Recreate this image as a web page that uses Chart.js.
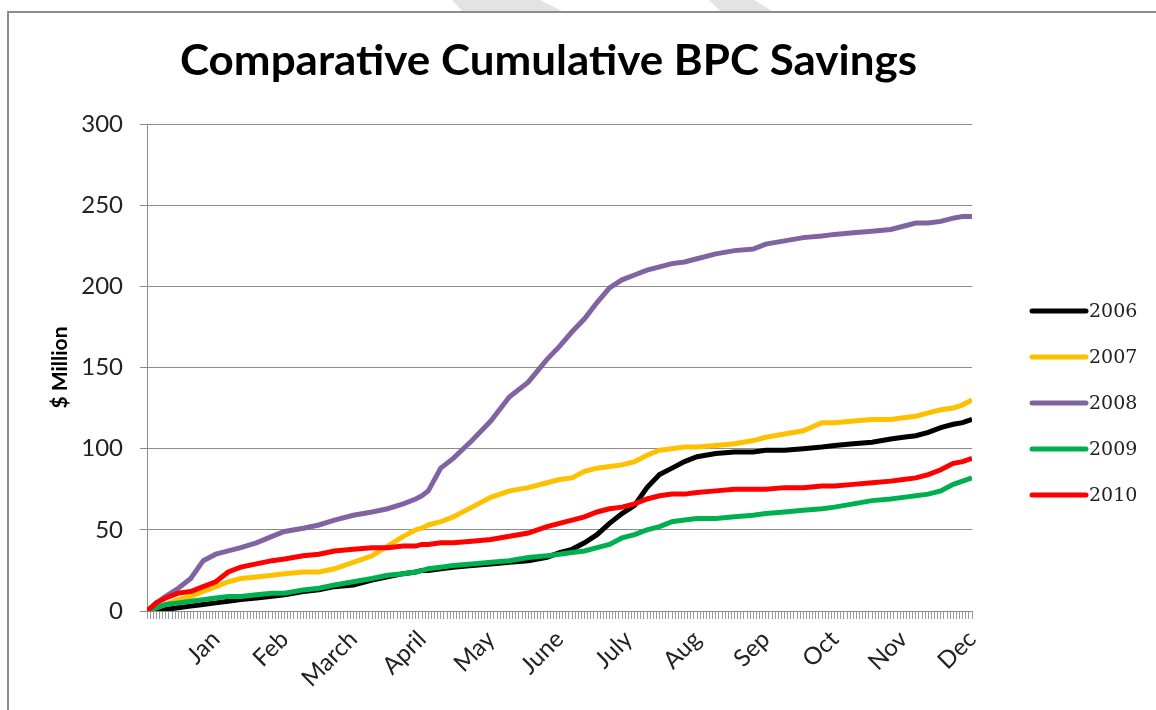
<!DOCTYPE html>
<html>
<head>
<meta charset="utf-8">
<script src="https://cdn.jsdelivr.net/npm/chart.js@4.4.1/dist/chart.umd.min.js"></script>
<style>
  html, body { margin: 0; padding: 0; background: #fff; overflow: hidden; }
  #wrap { position: relative; width: 1156px; height: 710px; }
  #frame { position: absolute; left: 7px; top: 11px; width: 1200px; height: 800px;
           border-top: 2px solid #8c8c8c; border-left: 2px solid #8c8c8c; }
  #chart { position: absolute; left: 0; top: 0; }
</style>
</head>
<body>
<div id="wrap">
  <div id="frame"></div>
  <canvas id="chart" width="1156" height="710"></canvas>
</div>
<script>
// working-day index through the year (22 per month)
const days = [0, 3, 6, 10, 14, 18, 22, 26, 30, 35, 40, 44, 50, 55, 60, 66, 72, 77, 82, 86, 88, 90,
  94, 98, 104, 110, 116, 122, 128, 132, 136, 140, 144, 148, 152, 156, 160, 164, 168, 172, 176,
  182, 188, 194, 198, 204, 210, 216, 220, 226, 232, 238, 242, 246, 250, 254, 258, 261, 264];

const months = ['Jan', 'Feb', 'March', 'April', 'May', 'June', 'July', 'Aug', 'Sep', 'Oct', 'Nov', 'Dec'];
const daysPerMonth = 22;
const yTicks = [0, 50, 100, 150, 200, 250, 300];

const s2006 = [0, 0, 1, 2, 3, 4, 5, 6, 7, 8, 9, 10, 12, 13, 15, 16, 19, 21, 23, 24, 25, 25,
  26, 27, 28, 29, 30, 31, 33, 36, 38, 42, 47, 54, 60, 65, 76, 84, 88, 92, 95,
  97, 98, 98, 99, 99, 100, 101, 102, 103, 104, 106, 107, 108, 110, 113, 115, 116, 118];
const s2007 = [0, 2, 4, 7, 9, 12, 15, 18, 20, 21, 22, 23, 24, 24, 26, 30, 34, 40, 46, 50, 51, 53,
  55, 58, 64, 70, 74, 76, 79, 81, 82, 86, 88, 89, 90, 92, 96, 99, 100, 101, 101,
  102, 103, 105, 107, 109, 111, 116, 116, 117, 118, 118, 119, 120, 122, 124, 125, 127, 130];
const s2008 = [0, 5, 9, 14, 20, 31, 35, 37, 39, 42, 46, 49, 51, 53, 56, 59, 61, 63, 66, 69, 71, 74,
  88, 94, 105, 117, 132, 141, 155, 163, 172, 180, 190, 199, 204, 207, 210, 212, 214, 215, 217,
  220, 222, 223, 226, 228, 230, 231, 232, 233, 234, 235, 237, 239, 239, 240, 242, 243, 243];
const s2009 = [0, 2, 4, 5, 6, 7, 8, 9, 9, 10, 11, 11, 13, 14, 16, 18, 20, 22, 23, 24, 25, 26,
  27, 28, 29, 30, 31, 33, 34, 35, 36, 37, 39, 41, 45, 47, 50, 52, 55, 56, 57,
  57, 58, 59, 60, 61, 62, 63, 64, 66, 68, 69, 70, 71, 72, 74, 78, 80, 82];
const s2010 = [0, 5, 8, 11, 12, 15, 18, 24, 27, 29, 31, 32, 34, 35, 37, 38, 39, 39, 40, 40, 41, 41,
  42, 42, 43, 44, 46, 48, 52, 54, 56, 58, 61, 63, 64, 66, 69, 71, 72, 72, 73,
  74, 75, 75, 75, 76, 76, 77, 77, 78, 79, 80, 81, 82, 84, 87, 91, 92, 94];

const seriesNames = ['2006', '2007', '2008', '2009', '2010'];
const seriesValues = [s2006, s2007, s2008, s2009, s2010];
const seriesColors = ['#000000', '#ffc000', '#8064a2', '#00b050', '#ff0000'];

const datasets = seriesNames.map((name, i) => ({
  label: name,
  data: days.map((d, k) => ({ x: d, y: seriesValues[i][k] })),
  borderColor: seriesColors[i],
  backgroundColor: seriesColors[i],
  borderWidth: 5,
  pointRadius: 0,
  tension: 0,
  fill: false,
  order: seriesNames.length - 1 - i   // later years on top
}));

// title, legend and the faint watermark at the top edge
const decor = {
  id: 'decor',
  beforeDraw(chart) {
    const ctx = chart.ctx;
    ctx.save();
    ctx.fillStyle = '#e3e3e3';
    ctx.beginPath();
    ctx.moveTo(452, 0); ctx.lineTo(540, 0); ctx.lineTo(562, 11); ctx.lineTo(462, 11);
    ctx.closePath(); ctx.fill();
    ctx.beginPath();
    ctx.moveTo(709, 0); ctx.lineTo(754, 0); ctx.lineTo(772, 11); ctx.lineTo(720, 11);
    ctx.closePath(); ctx.fill();
    ctx.restore();
  },
  afterDraw(chart) {
    const ctx = chart.ctx;
    ctx.save();
    // title
    const title = 'Comparative Cumulative BPC Savings';
    ctx.font = 'bold 42px Lato';
    const w = ctx.measureText(title).width;
    ctx.translate(548.5, 75);
    ctx.scale(737 / w, 1);
    ctx.fillStyle = '#000';
    ctx.textAlign = 'center';
    ctx.textBaseline = 'alphabetic';
    ctx.fillText(title, 0, 0);
    ctx.restore();

    // legend
    ctx.save();
    chart.data.datasets.forEach((ds, i) => {
      const y = 311 + i * 46;
      ctx.strokeStyle = ds.borderColor;
      ctx.lineWidth = 5;
      ctx.lineCap = 'round';
      ctx.beginPath();
      ctx.moveTo(1032, y);
      ctx.lineTo(1086, y);
      ctx.stroke();
      ctx.fillStyle = '#222';
      ctx.font = '19px "DejaVu Serif"';
      ctx.textAlign = 'left';
      ctx.textBaseline = 'middle';
      ctx.fillText(ds.label, 1089, y + 1);
    });
    ctx.restore();
  }
};

new Chart(document.getElementById('chart'), {
  type: 'line',
  data: { datasets: datasets },
  plugins: [decor],
  options: {
    responsive: false,
    animation: false,
    layout: { padding: { top: 124, right: 184, left: 48, bottom: 0 } },
    plugins: { legend: { display: false }, tooltip: { enabled: false } },
    scales: {
      x: {
        type: 'linear',
        min: 0,
        max: daysPerMonth * months.length,
        afterFit: s => { s.height = 99; },
        border: { color: '#8c8c8c' },
        grid: { drawOnChartArea: false, tickLength: 8, color: '#9a9a9a' },
        ticks: {
          stepSize: 1,
          autoSkip: false,
          minRotation: 45,
          maxRotation: 45,
          padding: 6,
          color: '#222',
          font: { family: 'Lato', size: 24 },
          callback: v => (v > 0 && v % daysPerMonth === 0) ? months[v / daysPerMonth - 1] : ''
        }
      },
      y: {
        min: yTicks[0],
        max: yTicks[yTicks.length - 1],
        afterFit: s => { s.width = 99; },
        afterBuildTicks: s => { s.ticks = yTicks.map(v => ({ value: v })); },
        border: { color: '#8c8c8c' },
        grid: { color: '#8c8c8c', tickLength: 7 },
        ticks: { padding: 17, color: '#222', font: { family: 'Lato', size: 24 } },
        title: {
          display: true,
          text: '$ Million',
          color: '#000',
          padding: 0,
          font: { family: 'Lato', size: 21, weight: 'bold' }
        }
      }
    }
  }
});
</script>
</body>
</html>
